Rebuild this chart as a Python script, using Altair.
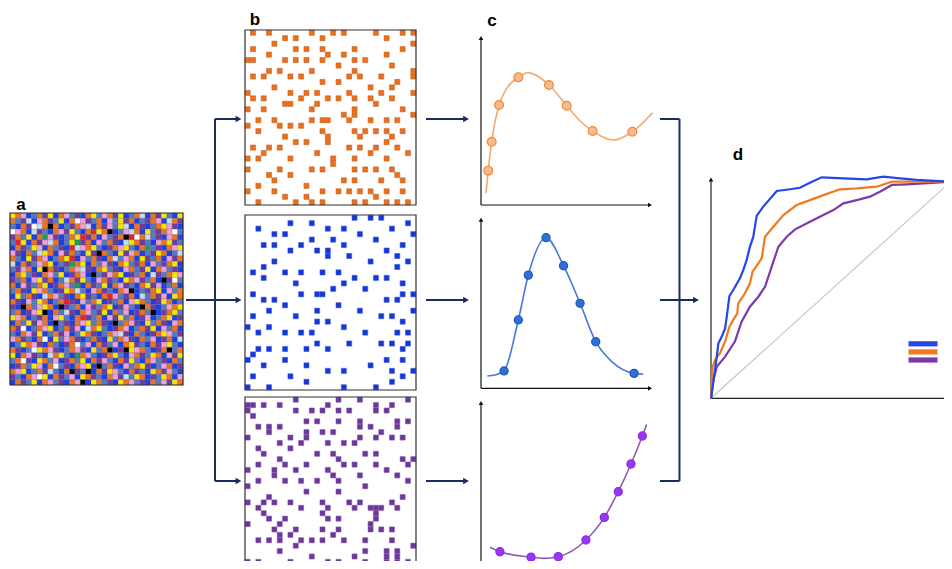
import altair as alt
import pandas as pd

# ---------------- data ----------------
# panel a: 32x32 mosaic, one colour code per cell (read approximately)
GRID_A = [
    "YOKBSOPY BOKSPBOY SKOPYBSO LBOPYSBY",
    "OSPLBKOP SYBOWKPS OBKSYPOB SPOKBLOP",
    "SBOPWLOX OBSPOKLB OPKSYLBO PBSOYKPB",
    "WKOBLPSB OKPYSBOR YOXBSKLO BYSPOKWS",
    "POSYBOGK PBSOYRPO BKSPOXRW OLSPBKOB",
    "SRYBOPKL OBSYGPOB KSOPBLYO PSBKOYPS",
    "BOPSYKBO SPBRLKOY SBPOKYSB OGSPBOKY",
    "KPBOSLYO BKPOSBYP XOSBYPKO BSPYOBSL",
    "OSBYPOKB SOYRBKSO PBOLSKOB YPSOBKPO",
    "LBOPSKOY BSPGOYBO SKPBOYSP OBKSPOYB",
    "SPKOBYXO PBSOKLPB OYSPBKOS PYBOKSPB",
    "BOYSPBOK SYBPOKBX SPKOYBPS OBLPSOYK",
    "PSOBKYPO BSLOPYSB KOPSBYOK PSOBXPWS",
    "OBKPSOYB POKSGBOP SYBOKPSB OYPKBSOB",
    "SOPBYKOS BPYOLSBK OPSBOKXB SPOYBKSO",
    "BYSOPBLO KSPBOYPS BORKSPOB LSOPKBYO",
    "OPBKSYOB SORPBKSO YBPSOBKY OSBPYOBS",
    "PBXOSKYO BXPSOBKP SOYBPKSB XOPBSKOY",
    "SOBPKYXB OSLPBOKS PYBOSKBP OSXBPOYS",
    "YKOBSPOB KYSBORPS OBKPYSOB PKBSOYBP",
    "BOSYPKOB XSPBOKYS OPBXSOKP BYSOPBKO",
    "OPWBSOKY BSOPKBLO YSBPOKBS OPYBKSOB",
    "SBOKPYBS OPKBSYOP BSOKLPBO SBPOYKSP",
    "KOPSBOWB YSKOPBSO PBYSOKPB OSKBPOBL",
    "BSYOKPBO SBPOWSKB OPSKBOYP SBOPKYSB",
    "OPBSWYOK PBSOKPBY SOXBPXYK OSBPOXSO",
    "YBOKPSBL OYSBGOKS BPOYSBKO PSYOBKPY",
    "SOWPBYOS KBPOSYBO PKSBOPYS BOKSPBOS",
    "BPOSYKBO WSPBOKYB XSOPBKSO YPBSKOBP",
    "OKYBSOPL SBOXPSXB OPYKSBOP SBYOPKSB",
    "PSBOKWYB OPSKBYOP SBOKPLSY OBPSYOBK",
    "BOPSYBOK SPBOKXBY OSPBYOKS PBOSKPYO",
]
MOSAIC_COLORS = {
    "B": "#1c3fe6", "O": "#ea7420", "P": "#6e3d9e", "S": "#5a78c0",
    "K": "#f29fd6", "Y": "#f7e600", "L": "#c8dcf0", "W": "#ffffff",
    "R": "#e6222a", "G": "#16a05a", "X": "#000000",
}

# panel b: occupied lattice columns for each of the 32 rows
ORANGE_DOTS = [
    [1, 4, 12, 16, 18, 24, 29, 31], [7, 9, 14, 26], [5, 31], [1, 9, 11, 14, 20, 29],
    [4, 15, 18, 26], [0, 1, 7, 9, 11, 14, 20, 22], [17, 27], [4, 6, 12, 20, 31],
    [1, 3, 8, 10, 19, 21, 25, 31], [14, 17, 28], [5, 23, 27], [0, 8, 11, 13, 19, 25, 31],
    [1, 3, 10, 15, 17, 20, 23, 27], [7, 8, 13, 24], [0, 3, 12, 20, 29], [18, 20, 31],
    [2, 5, 12, 14, 15, 19, 23, 26, 28], [0, 6, 8, 10], [2, 14, 20, 22, 24, 26, 29], [7, 15, 21, 27],
    [9, 11, 15, 26], [1, 4, 6, 19, 21, 24, 28], [3, 13, 23, 30], [0, 2, 8, 16, 20, 26],
    [16], [0, 6, 12, 14, 20, 22, 24, 27], [4, 8, 28], [5, 18, 20, 25, 29],
    [2, 11], [0, 5, 14, 17, 19, 21, 23, 26, 29], [7, 11, 24], [2, 9, 12, 14, 20, 22, 26, 28, 30],
]
BLUE_DOTS = [
    [20, 23, 25], [8, 12, 30], [2, 15, 18, 27], [5, 7, 21, 31],
    [12, 16, 24], [3, 5, 10, 18, 29], [8, 13, 15, 26], [15, 19, 28],
    [5, 23, 30], [3, 28], [1, 7, 10, 14, 17], [3, 20, 24, 26],
    [9, 18, 29], [16, 22], [1, 10, 13, 14, 29, 31], [3, 5, 26, 28],
    [7, 17], [4, 13, 21, 31], [1, 9, 25, 27], [13, 15, 29],
    [0, 4, 18], [2, 7, 10, 12, 22, 28, 30], [], [13, 19, 25, 27, 30],
    [2, 4, 7, 11, 15, 29], [1], [0, 7, 26, 29], [3, 11, 23],
    [15, 18, 27, 31], [1, 8, 29], [11, 27], [0, 4, 18, 24],
]
PURPLE_DOTS = [
    [9, 17, 21, 30], [0, 1, 3, 6, 15, 24, 27], [0, 9, 12, 14, 17, 19, 24, 26], [1],
    [11, 13, 17, 21, 28, 30], [2, 4, 6, 21, 23, 28], [4, 11, 14, 16, 25], [0, 8, 11, 21, 24, 27, 29],
    [6, 10, 15, 18, 20], [2, 8], [3, 13, 16, 22, 24], [6, 17, 29, 31],
    [2, 7, 11, 18, 20, 24, 30], [0, 5, 9, 15, 26], [5, 16, 21, 28], [2, 7, 10, 13, 17, 30],
    [0, 22], [11, 17], [4, 29], [0, 3, 5, 8, 14, 19, 21, 27],
    [2, 10, 15, 20, 23, 24, 25, 28], [3, 14, 24], [4, 7, 15, 17, 24], [0, 6, 23],
    [5, 9, 14, 17, 23, 25, 27], [6, 8, 16], [2, 4, 6, 10, 12, 14, 18, 22, 27], [9, 31],
    [6, 22, 26, 28], [12, 20, 26, 28], [0, 2, 8, 15, 17, 22, 26, 28, 30], [6, 10, 31],
]

# panel c: sample points and the smooth curve through them (axis units 0-10)
C_ORANGE_PX = [0.42, 0.62, 1.05, 2.17, 3.95, 4.98, 6.49, 8.80]
C_ORANGE_PY = [2.02, 3.72, 5.88, 7.51, 7.06, 5.84, 4.35, 4.31]
C_ORANGE_CX = [0.29, 0.42, 0.62, 1.05, 1.51, 2.17, 2.73, 3.95, 4.98, 5.76, 6.49, 7.69, 8.80, 9.98]
C_ORANGE_CY = [0.69, 2.02, 3.72, 5.88, 6.88, 7.51, 7.78, 7.06, 5.84, 4.94, 4.35, 3.82, 4.31, 5.43]

C_BLUE_PX = [1.34, 2.17, 2.75, 3.78, 4.80, 5.76, 6.67, 8.90]
C_BLUE_PY = [1.02, 4.02, 6.66, 8.86, 7.21, 5.00, 2.74, 0.88]
C_BLUE_CX = [0.37, 0.81, 1.34, 2.17, 2.75, 3.78, 4.80, 5.76, 6.67, 7.62, 8.90, 9.44]
C_BLUE_CY = [0.72, 0.78, 1.02, 4.02, 6.66, 8.86, 7.21, 5.00, 2.74, 1.55, 0.88, 0.84]

C_PURPLE_PX = [1.10, 2.91, 4.49, 6.10, 7.17, 7.98, 8.72, 9.38]
C_PURPLE_PY = [0.88, 0.56, 0.59, 1.57, 2.90, 4.41, 6.04, 7.69]
C_PURPLE_CX = [0.52, 1.10, 2.91, 3.62, 4.49, 6.10, 7.17, 7.98, 8.72, 9.38, 9.63]
C_PURPLE_CY = [1.14, 0.88, 0.56, 0.49, 0.59, 1.57, 2.90, 4.41, 6.04, 7.69, 8.37]

# panel d: ROC-style curves (fractions of the axis)
ROC_BLUE_X = [0, 0.007, 0.017, 0.031, 0.045, 0.059, 0.066, 0.077, 0.093, 0.121, 0.135, 0.149, 0.163,
              0.177, 0.191, 0.219, 0.275, 0.331, 0.372, 0.414, 0.463, 0.554, 0.651, 0.721, 0.791,
              0.861, 1.003]
ROC_BLUE_Y = [0, 0.054, 0.131, 0.254, 0.285, 0.323, 0.377, 0.472, 0.500, 0.554, 0.592, 0.638, 0.700,
              0.746, 0.842, 0.885, 0.957, 0.965, 0.972, 0.995, 1.020, 1.015, 1.011, 1.023, 1.015,
              1.008, 1.000]
ROC_ORANGE_X = [0, 0.007, 0.017, 0.038, 0.059, 0.077, 0.093, 0.110, 0.114, 0.142, 0.163, 0.174,
                0.198, 0.212, 0.226, 0.261, 0.303, 0.358, 0.414, 0.470, 0.540, 0.610, 0.693,
                0.757, 0.820, 1.003]
ROC_ORANGE_Y = [0, 0.146, 0.177, 0.208, 0.262, 0.331, 0.362, 0.392, 0.438, 0.485, 0.531, 0.585,
                0.623, 0.646, 0.746, 0.792, 0.846, 0.892, 0.915, 0.938, 0.965, 0.969, 0.977,
                1.000, 1.000, 1.000]
ROC_PURPLE_X = [0, 0.010, 0.024, 0.059, 0.100, 0.128, 0.163, 0.198, 0.226, 0.254, 0.282, 0.317,
                0.352, 0.414, 0.470, 0.512, 0.554, 0.610, 0.665, 0.707, 0.757, 0.820, 1.003]
ROC_PURPLE_Y = [0, 0.085, 0.146, 0.192, 0.262, 0.354, 0.423, 0.469, 0.515, 0.608, 0.700, 0.746,
                0.780, 0.815, 0.846, 0.869, 0.900, 0.915, 0.931, 0.954, 0.985, 0.988, 1.000]
LEGEND_COLORS = ["#2446ea", "#f27a1e", "#7a3aa8"]

PANEL_LABELS = ["a", "b", "c", "d"]

# ---------------- layout (figure pixel space) ----------------
NAVY = "#1b2d5c"
xs = alt.Scale(domain=[8, 944], nice=False, zero=False)
ys = alt.Scale(domain=[8, 561], nice=False, zero=False, reverse=True)


def enc_xy(ch):
    return ch.encode(x=alt.X("x:Q", scale=xs, axis=None), y=alt.Y("y:Q", scale=ys, axis=None))


def rect_layer(df, **mark):
    return alt.Chart(df).mark_rect(**mark).encode(
        x=alt.X("x:Q", scale=xs, axis=None), x2="x2:Q",
        y=alt.Y("y:Q", scale=ys, axis=None), y2="y2:Q")


def rule_layer(segs, color, width):
    df = pd.DataFrame(segs, columns=["x", "y", "x2", "y2"])
    return alt.Chart(df).mark_rule(color=color, strokeWidth=width).encode(
        x=alt.X("x:Q", scale=xs, axis=None), x2="x2:Q",
        y=alt.Y("y:Q", scale=ys, axis=None), y2="y2:Q")


def head_layer(pts, shape, color, size):
    df = pd.DataFrame(pts, columns=["x", "y"])
    return enc_xy(alt.Chart(df).mark_point(shape=shape, filled=True, color=color,
                                           size=size, opacity=1))


layers = []

# panel a mosaic
A_BOX = (10, 213, 183, 385)
cw = (A_BOX[2] - A_BOX[0]) / 32
chh = (A_BOX[3] - A_BOX[1]) / 32
recs = []
for r, row in enumerate(GRID_A):
    codes = row.replace(" ", "")
    for c, code in enumerate(codes[:32]):
        recs.append(dict(x=A_BOX[0] + c * cw, x2=A_BOX[0] + (c + 1) * cw,
                         y=A_BOX[1] + r * chh, y2=A_BOX[1] + (r + 1) * chh,
                         col=MOSAIC_COLORS[code]))
layers.append(rect_layer(pd.DataFrame(recs), stroke="#4a4a66", strokeWidth=0.35,
                         strokeOpacity=0.6).encode(color=alt.Color("col:N", scale=None)))
layers.append(rect_layer(pd.DataFrame([dict(x=A_BOX[0], x2=A_BOX[2], y=A_BOX[1], y2=A_BOX[3])]),
                         fill=None, fillOpacity=0, stroke="#333333", strokeWidth=1.2))

# panel b sparse grids
B_BOXES = [(245, 30, 416, 205), (245, 215, 416, 390), (245, 397, 416, 570)]
B_STYLE = [(ORANGE_DOTS, "#ea701c", "#c0601e"), (BLUE_DOTS, "#1536d8", "#3a55d8"),
           (PURPLE_DOTS, "#6a3899", "#7d52a8")]
for box, (rows, fill, stroke) in zip(B_BOXES, B_STYLE):
    x0, y0, x1, y1 = box
    w = (x1 - x0) / 32
    h = (y1 - y0) / 32
    recs = []
    for r, cols in enumerate(rows):
        for c in cols:
            cx = x0 + (c + 0.5) * w
            cy = y0 + (r + 0.5) * h
            recs.append(dict(x=cx - 0.47 * w, x2=cx + 0.47 * w, y=cy - 0.47 * h, y2=cy + 0.47 * h))
    layers.append(rect_layer(pd.DataFrame(recs), color=fill, stroke=stroke, strokeWidth=0.8,
                             strokeOpacity=0.7))
    layers.append(rect_layer(pd.DataFrame([dict(x=x0, x2=x1, y=y0, y2=y1)]),
                             fill=None, fillOpacity=0, stroke="#333333", strokeWidth=1.2))

# panel c small plots
C_ORIGINS = [(481, 205, 35), (481, 388.3, 216.7), (481, 566.7, 400)]
C_SERIES = [
    (C_ORANGE_PX, C_ORANGE_PY, C_ORANGE_CX, C_ORANGE_CY, "#f5a76a", "#f9bb8e", "#ec8a40", 78),
    (C_BLUE_PX, C_BLUE_PY, C_BLUE_CX, C_BLUE_CY, "#4a78dc", "#2f6fd6", "#1f55b8", 66),
    (C_PURPLE_PX, C_PURPLE_PY, C_PURPLE_CX, C_PURPLE_CY, "#8e5bb5", "#9b35f5", "#8a2be2", 66),
]
SX, SY = 17.2, 17.0
for (ox, oy, top), (px, py, cx, cy, lc, pf, ps, psize) in zip(C_ORIGINS, C_SERIES):
    layers.append(rule_layer([(ox, oy, ox, top + 4), (ox, oy, 649, oy)], "#111111", 1.2))
    layers.append(head_layer([(ox, top + 3)], "triangle-up", "#111111", 22))
    layers.append(head_layer([(650, oy)], "triangle-right", "#111111", 22))
    cdf = pd.DataFrame({"x": [ox + u * SX for u in cx], "y": [oy - v * SY for v in cy],
                        "i": list(range(len(cx)))})
    layers.append(enc_xy(alt.Chart(cdf).mark_line(interpolate="monotone", color=lc,
                                                  strokeWidth=1.6)).encode(order="i:Q"))
    pdf = pd.DataFrame({"x": [ox + u * SX for u in px], "y": [oy - v * SY for v in py]})
    layers.append(enc_xy(alt.Chart(pdf).mark_circle(size=psize, color=pf, stroke=ps,
                                                    strokeWidth=1.2, opacity=1)))

# panel d
DX0, DY0, DW, DH = 711, 398.3, 239, 216.6
layers.append(rule_layer([(DX0, DY0, DX0 + DW * 1.003, DY0 - DH * 1.0)], "#c8c8c8", 1.2))
layers.append(rule_layer([(DX0, DY0, DX0, 180), (DX0, DY0, 960, DY0)], "#222222", 1.2))
layers.append(head_layer([(DX0, 179.5)], "triangle-up", "#111111", 22))
for xs_, ys_, col in [(ROC_PURPLE_X, ROC_PURPLE_Y, LEGEND_COLORS[2]),
                      (ROC_ORANGE_X, ROC_ORANGE_Y, LEGEND_COLORS[1]),
                      (ROC_BLUE_X, ROC_BLUE_Y, LEGEND_COLORS[0])]:
    ddf = pd.DataFrame({"x": [DX0 + u * DW for u in xs_], "y": [DY0 - v * DH for v in ys_],
                        "i": list(range(len(xs_)))})
    layers.append(enc_xy(alt.Chart(ddf).mark_line(color=col, strokeWidth=2.2)).encode(order="i:Q"))
leg = pd.DataFrame([dict(x=908.5, x2=937.5, y=341.2 + k * 8.1, y2=346.4 + k * 8.1, col=c)
                    for k, c in enumerate(LEGEND_COLORS)])
layers.append(rect_layer(leg).encode(color=alt.Color("col:N", scale=None)))

# connecting arrows
layers.append(rule_layer([
    (186, 300, 237, 300), (215, 119, 215, 481), (215, 119, 237, 119), (215, 481, 237, 481),
    (426, 119, 464, 119), (426, 300, 464, 300), (426, 481, 464, 481),
    (660, 119, 679.5, 119), (679.5, 119, 679.5, 481), (660, 481, 679.5, 481),
    (660, 300, 694, 300),
], NAVY, 2))
layers.append(head_layer([(238.5, 300), (238.5, 119), (238.5, 481),
                          (466, 119), (466, 300), (466, 481), (696, 300)],
                         "triangle-right", NAVY, 45))

# panel letters
lab = pd.DataFrame({"x": [21, 255, 492, 738], "y": [205, 20, 21, 155], "t": PANEL_LABELS})
layers.append(enc_xy(alt.Chart(lab).mark_text(fontSize=17, fontWeight="bold",
                                              font="Liberation Sans", color="#000000",
                                              baseline="middle", align="center"))
              .encode(text="t:N"))

chart = alt.layer(*layers).properties(
    width=936, height=553, autosize=alt.AutoSizeParams(type="none"), padding=0
).configure_view(stroke=None)

chart.save("out.html", embed_options={"renderer": "svg", "actions": False})
